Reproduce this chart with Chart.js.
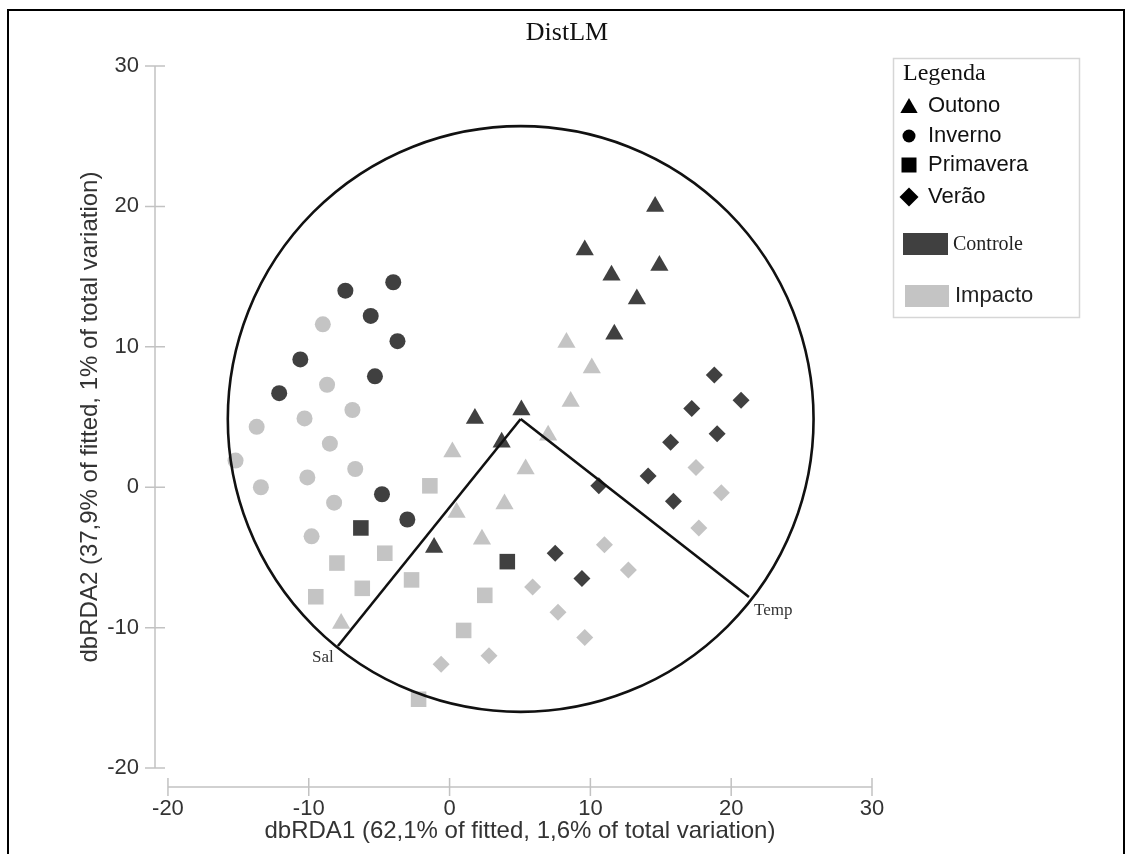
<!DOCTYPE html>
<html>
<head>
<meta charset="utf-8">
<title>DistLM</title>
<script src="https://cdn.jsdelivr.net/npm/chart.js@4.4.1/dist/chart.umd.min.js"></script>
<style>
	html, body { margin: 0; padding: 0; background: #fff; }
	#wrap { position: relative; width: 1131px; height: 854px; }
</style>
</head>
<body>
<div id="wrap"><canvas id="chart" width="1131" height="854"></canvas></div>
<script>
(function() {
	'use strict';

	const chartTitle = 'DistLM';
	const xTitle = 'dbRDA1 (62,1% of fitted, 1,6% of total variation)';
	const yTitle = 'dbRDA2 (37,9% of fitted, 1% of total variation)';
	const xTicks = [-20, -10, 0, 10, 20, 30];
	const yTicks = [-20, -10, 0, 10, 20, 30];

	const legendTitle = 'Legenda';
	const seasons = ['Outono', 'Inverno', 'Primavera', 'Verão'];
	const groups = ['Controle', 'Impacto'];

	// dbRDA scores, [x, y]
	const outonoControle = [[14.6, 20.0], [9.6, 16.9], [14.9, 15.8], [11.5, 15.1], [13.3, 13.4], [11.7, 10.9], [5.1, 5.5], [1.8, 4.9], [3.7, 3.2], [-1.1, -4.3]];
	const outonoImpacto = [[8.3, 10.3], [10.1, 8.5], [8.6, 6.1], [7.0, 3.7], [0.2, 2.5], [5.4, 1.3], [3.9, -1.2], [0.5, -1.8], [2.3, -3.7], [-7.7, -9.7]];
	const invernoControle = [[-4.0, 14.6], [-7.4, 14.0], [-5.6, 12.2], [-3.7, 10.4], [-10.6, 9.1], [-5.3, 7.9], [-12.1, 6.7], [-4.8, -0.5], [-3.0, -2.3]];
	const invernoImpacto = [[-9.0, 11.6], [-8.7, 7.3], [-6.9, 5.5], [-10.3, 4.9], [-13.7, 4.3], [-8.5, 3.1], [-15.2, 1.9], [-10.1, 0.7], [-6.7, 1.3], [-13.4, 0.0], [-8.2, -1.1], [-9.8, -3.5]];
	const primaveraControle = [[-6.3, -2.9], [4.1, -5.3]];
	const primaveraImpacto = [[-1.4, 0.1], [-4.6, -4.7], [-8.0, -5.4], [-2.7, -6.6], [-6.2, -7.2], [-9.5, -7.8], [2.5, -7.7], [1.0, -10.2], [-2.2, -15.1]];
	const veraoControle = [[18.8, 8.0], [20.7, 6.2], [17.2, 5.6], [19.0, 3.8], [15.7, 3.2], [14.1, 0.8], [15.9, -1.0], [10.6, 0.1], [7.5, -4.7], [9.4, -6.5]];
	const veraoImpacto = [[17.5, 1.4], [19.3, -0.4], [17.7, -2.9], [11.0, -4.1], [12.7, -5.9], [5.9, -7.1], [7.7, -8.9], [9.6, -10.7], [2.8, -12.0], [-0.6, -12.6]];

	// vector overlay: origin, end points, circle radius
	const vectorNames = ['Sal', 'Temp'];
	const vectorOrigin = [5.05, 4.86];
	const vectorEnds = [[-7.93, -11.31], [21.26, -7.82]];
	const circleRadius = 20.8;

	const seriesBySeason = [
		[outonoControle, outonoImpacto],
		[invernoControle, invernoImpacto],
		[primaveraControle, primaveraImpacto],
		[veraoControle, veraoImpacto]
	];

	const shapes = ['triangle', 'circle', 'rect', 'rectRot'];
	const shapeRadius = { triangle: 10.5, circle: 8, rect: 11, rectRot: 8.5 };
	const groupColors = ['#404040', '#c4c4c4'];
	const sansFont = '"Liberation Sans", Arial, sans-serif';
	const serifFont = '"Liberation Serif", "Times New Roman", serif';

	const toXY = arr => arr.map(p => ({ x: p[0], y: p[1] }));

	const datasets = [];
	vectorEnds.forEach((end, i) => {
		datasets.push({
			label: vectorNames[i],
			data: toXY([vectorOrigin, end]),
			showLine: true,
			borderColor: '#111',
			borderWidth: 2.6,
			pointRadius: 0,
			pointHoverRadius: 0,
			order: -1
		});
	});
	seriesBySeason.forEach((pair, s) => {
		pair.forEach((arr, g) => {
			datasets.push({
				label: seasons[s] + ' ' + groups[g],
				data: toXY(arr),
				pointStyle: shapes[s],
				pointRadius: shapeRadius[shapes[s]],
				pointHoverRadius: shapeRadius[shapes[s]],
				backgroundColor: groupColors[g],
				pointBackgroundColor: groupColors[g],
				pointBorderWidth: 0,
				borderWidth: 0
			});
		});
	});

	function drawShape(ctx, shape, x, y, r) {
		ctx.beginPath();
		if (shape === 'triangle') {
			ctx.moveTo(x, y - r);
			ctx.lineTo(x + r * 0.866, y + r * 0.5);
			ctx.lineTo(x - r * 0.866, y + r * 0.5);
		} else if (shape === 'circle') {
			ctx.arc(x, y, r, 0, Math.PI * 2);
		} else if (shape === 'rect') {
			ctx.rect(x - r, y - r, 2 * r, 2 * r);
		} else {
			ctx.moveTo(x - r, y); ctx.lineTo(x, y - r); ctx.lineTo(x + r, y); ctx.lineTo(x, y + r);
		}
		ctx.closePath();
		ctx.fill();
	}

	const overlay = {
		id: 'overlay',
		beforeDatasetsDraw(chart) {
			const ctx = chart.ctx;
			const xs = chart.scales.x, ys = chart.scales.y;
			const ax = chart.chartArea.left, ay = chart.chartArea.bottom;
			ctx.save();
			ctx.strokeStyle = '#c2c2c2';
			ctx.lineWidth = 1.5;
			ctx.beginPath();
			ctx.moveTo(xs.getPixelForValue(xTicks[0]), ay);
			ctx.lineTo(xs.getPixelForValue(xTicks[xTicks.length - 1]), ay);
			xTicks.forEach(v => {
				const px = xs.getPixelForValue(v);
				ctx.moveTo(px, ay - 9); ctx.lineTo(px, ay + 9);
			});
			ctx.moveTo(ax, ys.getPixelForValue(yTicks[0]));
			ctx.lineTo(ax, ys.getPixelForValue(yTicks[yTicks.length - 1]));
			yTicks.forEach(v => {
				const py = ys.getPixelForValue(v);
				ctx.moveTo(ax - 10, py); ctx.lineTo(ax + 10, py);
			});
			ctx.stroke();
			ctx.restore();
		},
		afterDatasetsDraw(chart) {
			const ctx = chart.ctx;
			const xs = chart.scales.x, ys = chart.scales.y;
			const cx = xs.getPixelForValue(vectorOrigin[0]);
			const cy = ys.getPixelForValue(vectorOrigin[1]);
			const r = xs.getPixelForValue(vectorOrigin[0] + circleRadius) - cx;
			ctx.save();
			ctx.strokeStyle = '#111';
			ctx.lineWidth = 2.6;
			ctx.beginPath();
			ctx.arc(cx, cy, r, 0, Math.PI * 2);
			ctx.stroke();

			ctx.fillStyle = '#333';
			ctx.font = '17px ' + serifFont;
			ctx.textBaseline = 'middle';
			const salPx = [xs.getPixelForValue(vectorEnds[0][0]), ys.getPixelForValue(vectorEnds[0][1])];
			const tempPx = [xs.getPixelForValue(vectorEnds[1][0]), ys.getPixelForValue(vectorEnds[1][1])];
			ctx.textAlign = 'center';
			ctx.fillText(vectorNames[0], salPx[0] - 15, salPx[1] + 12);
			ctx.textAlign = 'left';
			ctx.fillText(vectorNames[1], tempPx[0] + 5, tempPx[1] + 14);
			ctx.restore();
		},
		afterDraw(chart) {
			const ctx = chart.ctx;
			const xs = chart.scales.x, ys = chart.scales.y;
			ctx.save();

			// outer frame
			ctx.strokeStyle = '#000';
			ctx.lineWidth = 2;
			ctx.beginPath();
			ctx.moveTo(8, 860); ctx.lineTo(8, 10); ctx.lineTo(1124, 10); ctx.lineTo(1124, 860);
			ctx.stroke();

			// title
			ctx.fillStyle = '#111';
			ctx.font = '26px ' + serifFont;
			ctx.textAlign = 'center';
			ctx.textBaseline = 'middle';
			ctx.fillText(chartTitle, 567, 33);

			// axis titles
			ctx.fillStyle = '#333';
			ctx.font = '24px ' + sansFont;
			const xMid = (xs.getPixelForValue(xTicks[0]) + xs.getPixelForValue(xTicks[xTicks.length - 1])) / 2;
			ctx.fillText(xTitle, xMid, 831);
			const yMid = (ys.getPixelForValue(yTicks[0]) + ys.getPixelForValue(yTicks[yTicks.length - 1])) / 2;
			ctx.translate(90, yMid);
			ctx.rotate(-Math.PI / 2);
			ctx.fillText(yTitle, 0, 0);
			ctx.setTransform(1, 0, 0, 1, 0, 0);

			// legend
			ctx.strokeStyle = '#d6d6d6';
			ctx.lineWidth = 1.5;
			ctx.strokeRect(893.5, 58.5, 186, 259);
			ctx.textAlign = 'left';
			ctx.fillStyle = '#111';
			ctx.font = '24px ' + serifFont;
			ctx.fillText(legendTitle, 903, 74);
			const rowY = [106, 136, 165, 197];
			const legR = { triangle: 10, circle: 6.5, rect: 7.5, rectRot: 9.5 };
			ctx.font = '22px ' + sansFont;
			seasons.forEach((name, i) => {
				ctx.fillStyle = '#000';
				drawShape(ctx, shapes[i], 909, rowY[i] + (shapes[i] === 'triangle' ? 2 : 0), legR[shapes[i]]);
				ctx.fillStyle = '#111';
				ctx.fillText(name, 928, rowY[i]);
			});
			ctx.fillStyle = groupColors[0];
			ctx.fillRect(903, 233, 45, 22);
			ctx.fillStyle = '#222';
			ctx.font = '20px ' + serifFont;
			ctx.fillText(groups[0], 953, 245);
			ctx.fillStyle = groupColors[1];
			ctx.fillRect(905, 285, 44, 22);
			ctx.fillStyle = '#222';
			ctx.font = '22px ' + sansFont;
			ctx.fillText(groups[1], 955, 296);
			ctx.restore();
		}
	};

	const tickFont = { family: sansFont, size: 22 };

	new Chart(document.getElementById('chart').getContext('2d'), {
		type: 'scatter',
		data: { datasets },
		options: {
			responsive: false,
			animation: false,
			layout: { padding: { top: 66, right: 259, bottom: 0, left: 0 } },
			plugins: { legend: { display: false }, tooltip: { enabled: false }, title: { display: false } },
			scales: {
				x: {
					type: 'linear',
					min: -20.92,
					max: 30,
					afterBuildTicks: s => { s.ticks = xTicks.map(v => ({ value: v })); },
					afterFit: s => { s.height = 67; },
					grid: { display: false, drawTicks: false },
					border: { display: false },
					ticks: { font: tickFont, color: '#333', padding: 9, maxRotation: 0, autoSkip: false }
				},
				y: {
					type: 'linear',
					min: -21.35,
					max: 30,
					afterBuildTicks: s => { s.ticks = yTicks.map(v => ({ value: v })); },
					afterFit: s => { s.width = 155; },
					grid: { display: false, drawTicks: false },
					border: { display: false },
					ticks: { font: tickFont, color: '#333', padding: 16, autoSkip: false }
				}
			}
		},
		plugins: [overlay]
	});
})();
</script>
</body>
</html>
